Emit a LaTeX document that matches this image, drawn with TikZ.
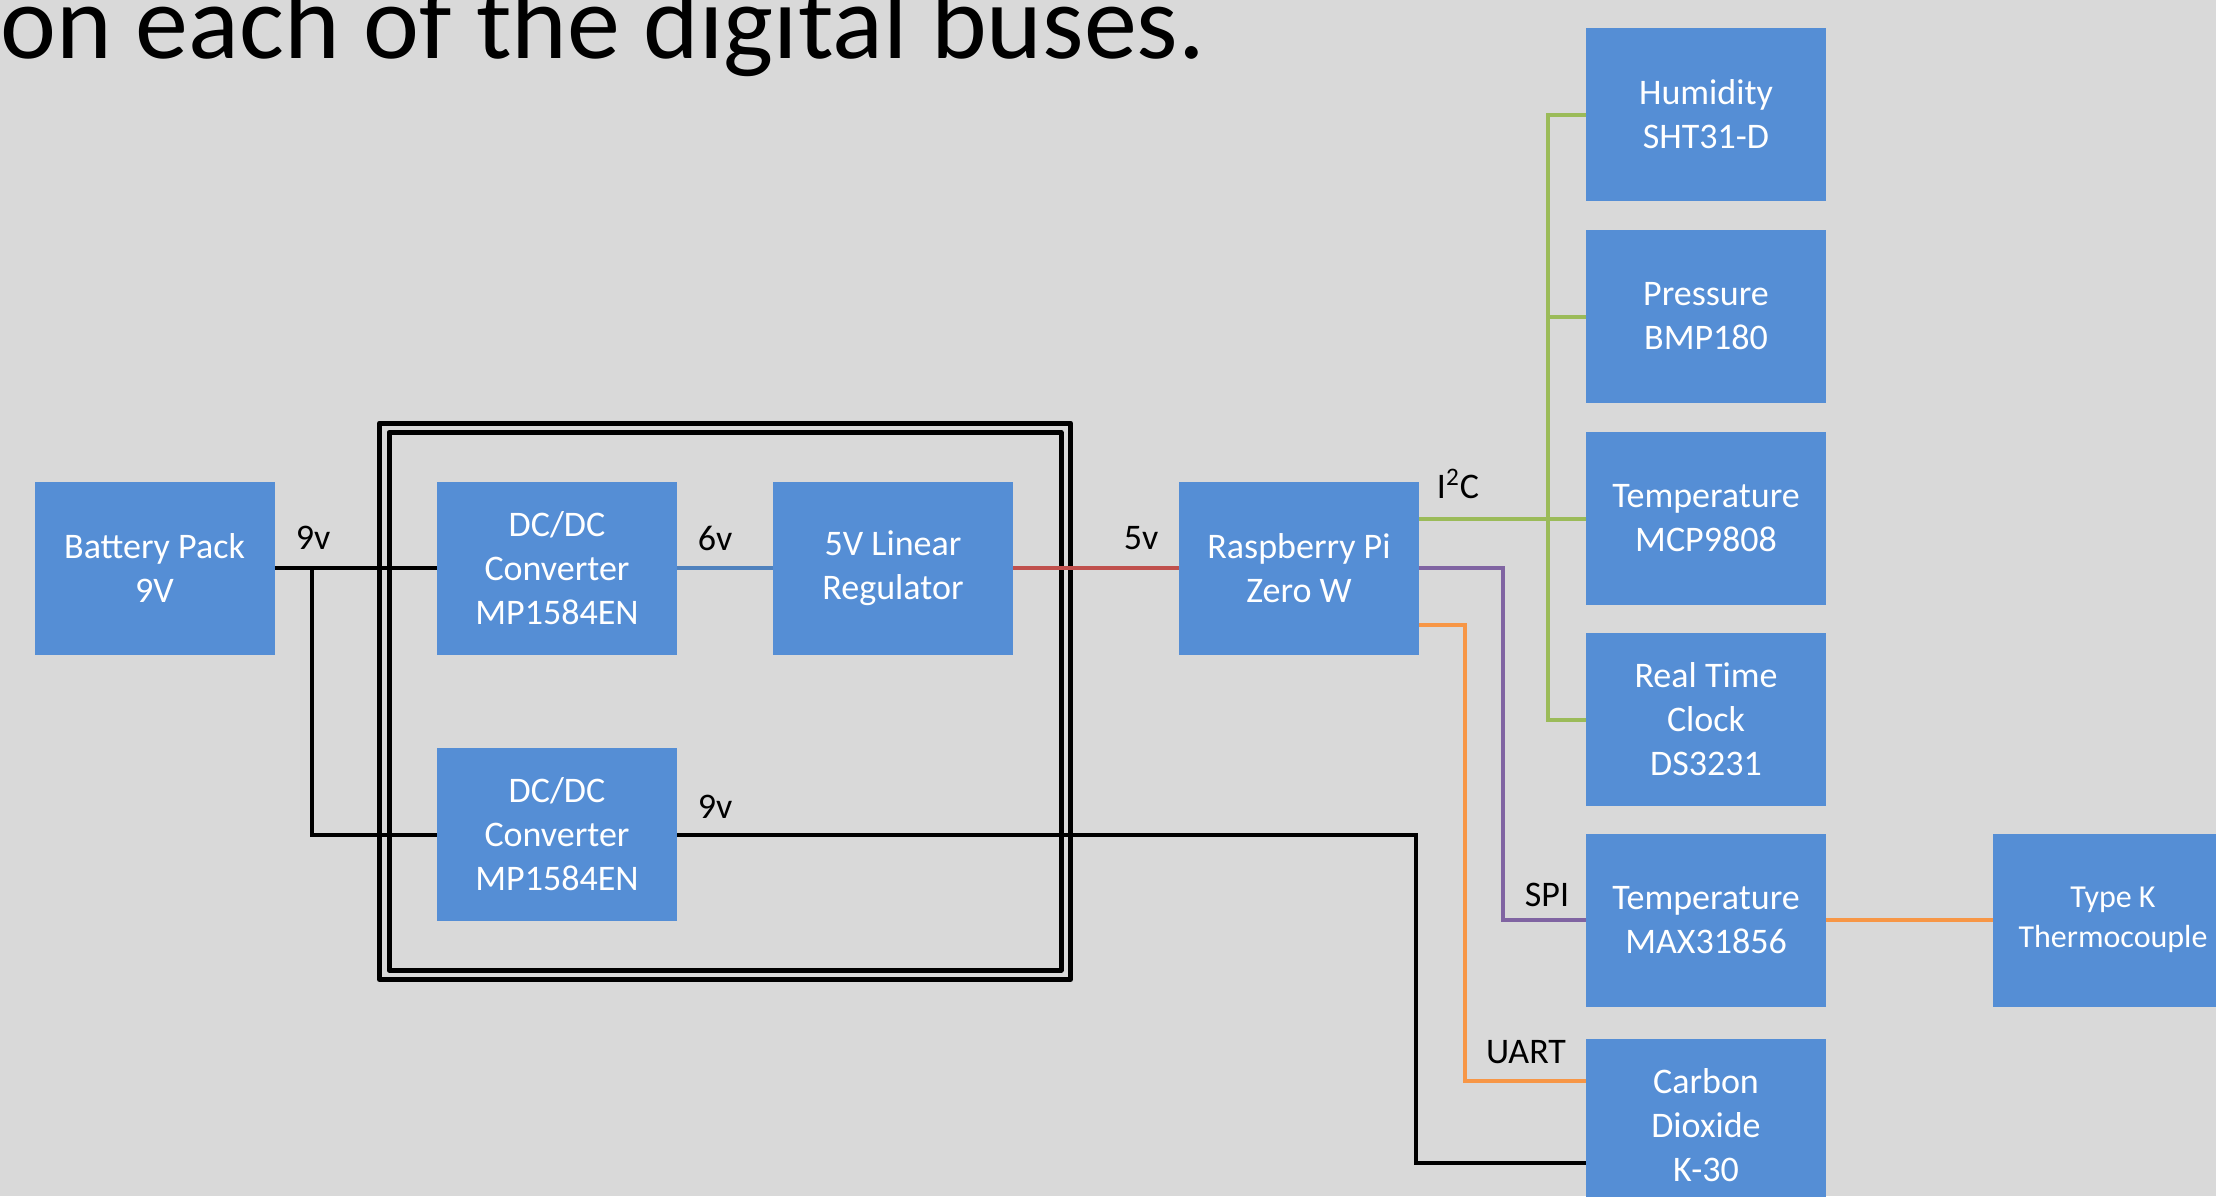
\documentclass[tikz,border=0pt]{standalone}
\usepackage{fontspec}
\setmainfont{Carlito}
\usetikzlibrary{positioning,calc}
\definecolor{slidebg}{HTML}{D9D9D9}
\definecolor{boxblue}{HTML}{558ED5}
\definecolor{wiregreen}{HTML}{9BBB59}
\definecolor{wirepurple}{HTML}{8064A2}
\definecolor{wireorange}{HTML}{F79646}
\definecolor{wirered}{HTML}{C0504D}
\definecolor{wireblue}{HTML}{4F81BD}
\tikzset{
  block/.style={rectangle,fill=boxblue,text=white,minimum width=120pt,minimum height=86.5pt,
    inner sep=0pt,align=center,font=\fontsize{18}{22}\selectfont},
  lbl/.style={inner sep=0pt,font=\fontsize{18}{22}\selectfont},
  wire/.style={line width=2pt},
  frame/.style={line width=2.5pt,line join=round},
}
\begin{document}
\begin{tikzpicture}[x=0.5pt,y=-0.5pt]
  \clip (0,0) rectangle (2216,1196);
  \fill[slidebg] (0,0) rectangle (2216,1196);
  \node[anchor=base west,inner sep=0pt,font=\fontsize{53}{60}\selectfont] (title) at (0,58) {on each of the digital buses.};
  % power board frame
  \draw[frame] (379.5,423) rectangle (1070.5,979.5);
  \draw[frame] (389,432.5) rectangle (1061,970);
  % blocks
  \node[block] (batt) at (154.5,568) {Battery Pack\\9V};
  \node[block] (dcA) at (557,568) {DC/DC\\Converter\\MP1584EN};
  \node[block] (lin) at (893,568) {5V Linear\\Regulator};
  \node[block] (dcB) at (557,834.5) {DC/DC\\Converter\\MP1584EN};
  \node[block] (rpi) at (1299,568) {Raspberry Pi\\Zero W};
  \node[block] (hum) at (1706,114.5) {Humidity\\SHT31-D};
  \node[block] (pres) at (1706,316.5) {Pressure\\BMP180};
  \node[block] (mcp) at (1706,518.5) {Temperature\\MCP9808};
  \node[block] (rtc) at (1706,719.5) {Real Time\\Clock\\DS3231};
  \node[block] (max) at (1706,920) {Temperature\\MAX31856};
  \node[block] (co2) at (1706,1125.5) {Carbon\\Dioxide\\K-30};
  \node[block,font=\fontsize{16}{20}\selectfont] (tk) at (2113,920) {Type K\\Thermocouple};
  % helper points
  \coordinate (split) at (312,568);
  \coordinate (pwrcol) at (1416,0);
  \coordinate (bus) at (1548,0);
  \coordinate (spicol) at (1503,0);
  \coordinate (uartcol) at (1465,0);
  \coordinate (co2low) at ([yshift=-18.75pt]co2.west);
  \coordinate (co2up) at ([yshift=22.25pt]co2.west);
  \coordinate (rpilow) at ([yshift=-28.5pt]rpi.east);
  % power wires
  \draw[wire] (batt.east) -- (dcA.west);
  \draw[wire] (split) |- (dcB.west);
  \draw[wire,wireblue] (dcA.east) -- (lin.west);
  \draw[wire,wirered] (lin.east) -- (rpi.west);
  \draw[wire] (dcB.east) -- (dcB.east -| pwrcol) |- (co2low);
  % buses
  \draw[wire,wiregreen] (mcp.west -| rpi.east) -- (mcp.west);
  \draw[wire,wiregreen] (hum.west) -- (bus |- hum.west) -- (bus |- rtc.west) -- (rtc.west);
  \draw[wire,wiregreen] (bus |- pres.west) -- (pres.west);
  \draw[wire,wirepurple] (rpi.east) -- (rpi.east -| spicol) |- (max.west);
  \draw[wire,wireorange] (rpilow) -- (rpilow -| uartcol) |- (co2up);
  \draw[wire,wireorange] (max.east) -- (tk.west);
  % labels
  \node[lbl] (v9a) at (313,538) {9v};
  \node[lbl] (v6) at (715,538) {6v};
  \node[lbl] (v5) at (1141,538) {5v};
  \node[lbl] (v9b) at (715,807) {9v};
  \node[lbl] (i2c) at (1458,484) {I\textsuperscript{2}C};
  \node[lbl] (spi) at (1547,895) {SPI};
  \node[lbl] (uart) at (1526,1052) {UART};
\end{tikzpicture}
\end{document}
